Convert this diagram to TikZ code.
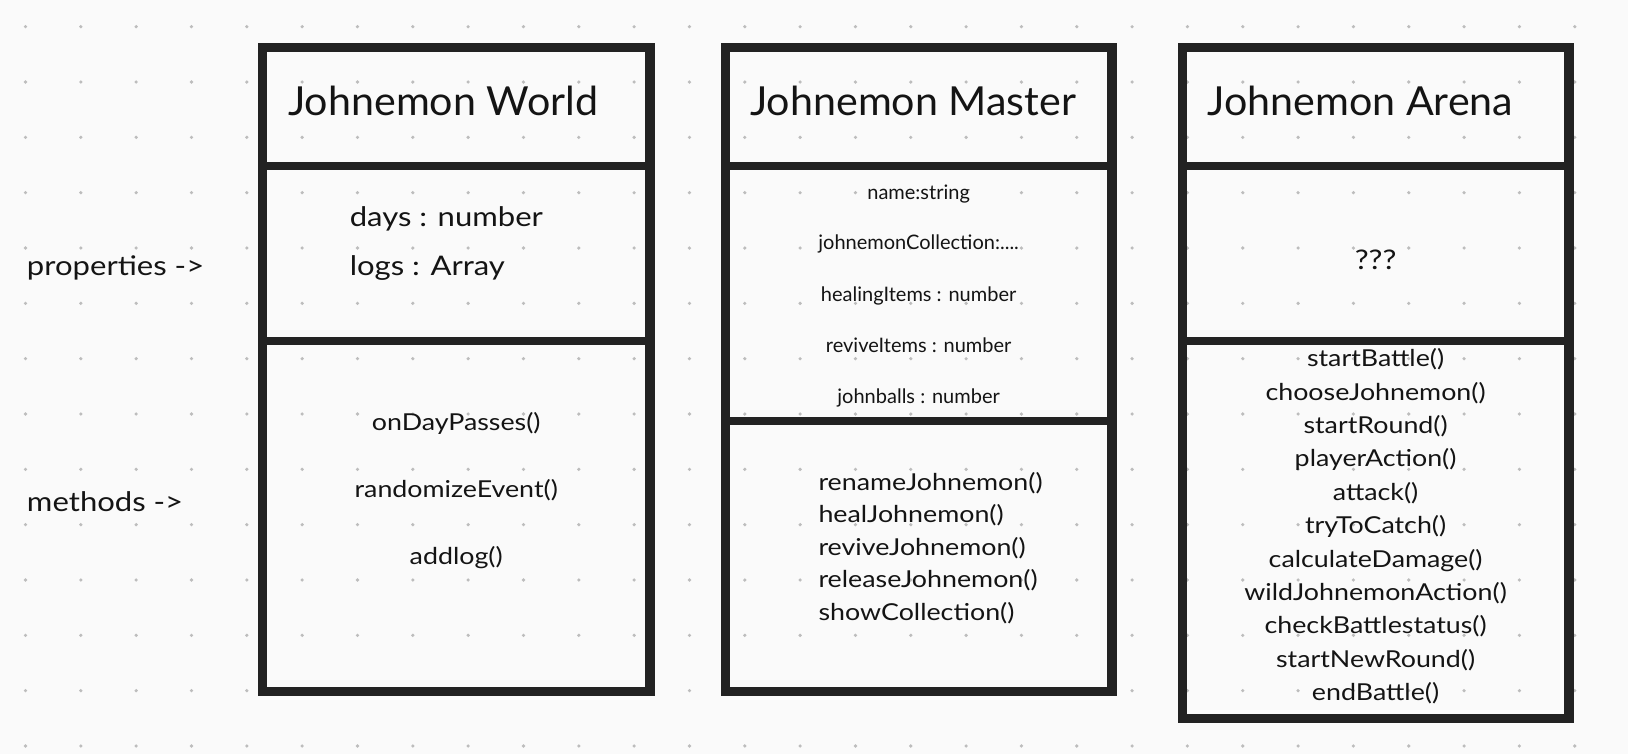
\documentclass[tikz,border=0pt]{standalone}
\usepackage{fontspec}
\setmainfont{Lato}
\newfontfamily\headfont[FakeStretch=1.03]{Lato}
\newfontfamily\bodyfont[FakeStretch=1.15]{Lato}
\usepackage{tikz}
\usetikzlibrary{positioning}

\definecolor{paper}{HTML}{FAFAFA}
\definecolor{griddot}{HTML}{BDBDBD}
\definecolor{ink}{HTML}{222222}
\definecolor{txt}{HTML}{141414}

\tikzset{
  classbox/.style = {draw = ink, line width = 9.3pt, inner sep = 0pt, outer sep = 0pt, rectangle},
  divider/.style = {draw = ink, line width = 8pt},
  title/.style = {inner sep = 0pt, text = txt, font = \headfont\fontsize{40}{48}\selectfont},
  bigtxt/.style = {inner sep = 0pt, text = txt, font = \bodyfont\fontsize{27}{32}\selectfont},
  midtxt/.style = {inner sep = 0pt, text = txt, font = \bodyfont\fontsize{23.3}{28}\selectfont},
  smalltxt/.style = {inner sep = 0pt, text = txt, font = \fontsize{20}{24}\selectfont}
}

\begin{document}
\begin{tikzpicture}[x=1pt, y=-1pt]
\clip (0,0) rectangle (1628,754);
\fill[paper] (0,0) rectangle (1628,754);

% dotted canvas
\foreach \i in {0,...,29}
  \foreach \j in {0,...,13}
    \fill[griddot] (25.5+\i*55.33, 26.7+\j*55.33) circle (1.8);

% the three classes
\node[classbox, minimum width = 387.5pt, minimum height = 644.1pt] (world) at (456.25,369.25) {};
\node[classbox, minimum width = 386.7pt, minimum height = 644.1pt] (master) at (918.65,369.25) {};
\node[classbox, minimum width = 386.8pt, minimum height = 671.5pt] (arena) at (1375.6,382.95) {};

\draw[divider] (world.west |- 0,166.3) -- (world.east |- 0,166.3);
\draw[divider] (world.west |- 0,341.3) -- (world.east |- 0,341.3);
\draw[divider] (master.west |- 0,166.3) -- (master.east |- 0,166.3);
\draw[divider] (master.west |- 0,421.2) -- (master.east |- 0,421.2);
\draw[divider] (arena.west |- 0,166.3) -- (arena.east |- 0,166.3);
\draw[divider] (arena.west |- 0,341.3) -- (arena.east |- 0,341.3);

% side labels
\node[bigtxt, anchor = base west] (props) at (26.8,276) {properties ->};
\node[bigtxt, anchor = base west] (meths) at (26.8,511.7) {methods ->};

% Johnemon World
\node[title, anchor = base west] (worldT) at (288,116) {Johnemon World};
\node[bigtxt, anchor = base west] (days) at (349.6,226.7) {days : number};
\node[bigtxt, anchor = base west] (logs) at (349.6,275) {logs : Array};
\node[midtxt, anchor = base] (dayp) at (456.25,430.7) {onDayPasses()};
\node[midtxt, anchor = base] (rande) at (456.25,497.7) {randomizeEvent()};
\node[midtxt, anchor = base] (addl) at (456.25,564.7) {addlog()};

% Johnemon Master
\node[title, anchor = base west] (masterT) at (750,116) {Johnemon Master};
\node[smalltxt, anchor = base] (mname) at (918.65,199.3) {name:string};
\node[smalltxt, anchor = base] (mcoll) at (918.65,250) {johnemonCollection:....};
\node[smalltxt, anchor = base] (mheal) at (918.65,301) {healingItems : number};
\node[smalltxt, anchor = base] (mrev) at (918.65,352.3) {reviveItems : number};
\node[smalltxt, anchor = base] (mball) at (918.65,403.3) {johnballs : number};
\node[midtxt, anchor = base west] (rename) at (818.3,490) {renameJohnemon()};
\node[midtxt, anchor = base west] (healj) at (818.3,522.5) {healJohnemon()};
\node[midtxt, anchor = base west] (revj) at (818.3,555) {reviveJohnemon()};
\node[midtxt, anchor = base west] (relj) at (818.3,587.5) {releaseJohnemon()};
\node[midtxt, anchor = base west] (showc) at (818.3,620) {showCollection()};

% Johnemon Arena
\node[title, anchor = base west] (arenaT) at (1207.3,116) {Johnemon Arena};
\node[bigtxt, anchor = base] (unk) at (1375.6,269.3) {???};
\node[midtxt, anchor = base] (a1) at (1375.6,366.7) {startBattle()};
\node[midtxt, anchor = base] (a2) at (1375.6,400.1) {chooseJohnemon()};
\node[midtxt, anchor = base] (a3) at (1375.6,433.5) {startRound()};
\node[midtxt, anchor = base] (a4) at (1375.6,466.9) {playerAction()};
\node[midtxt, anchor = base] (a5) at (1375.6,500.3) {attack()};
\node[midtxt, anchor = base] (a6) at (1375.6,533.7) {tryToCatch()};
\node[midtxt, anchor = base] (a7) at (1375.6,567.1) {calculateDamage()};
\node[midtxt, anchor = base] (a8) at (1375.6,600.5) {wildJohnemonAction()};
\node[midtxt, anchor = base] (a9) at (1375.6,633.9) {checkBattlestatus()};
\node[midtxt, anchor = base] (a10) at (1375.6,667.3) {startNewRound()};
\node[midtxt, anchor = base] (a11) at (1375.6,700.7) {endBattle()};

\end{tikzpicture}
\end{document}
